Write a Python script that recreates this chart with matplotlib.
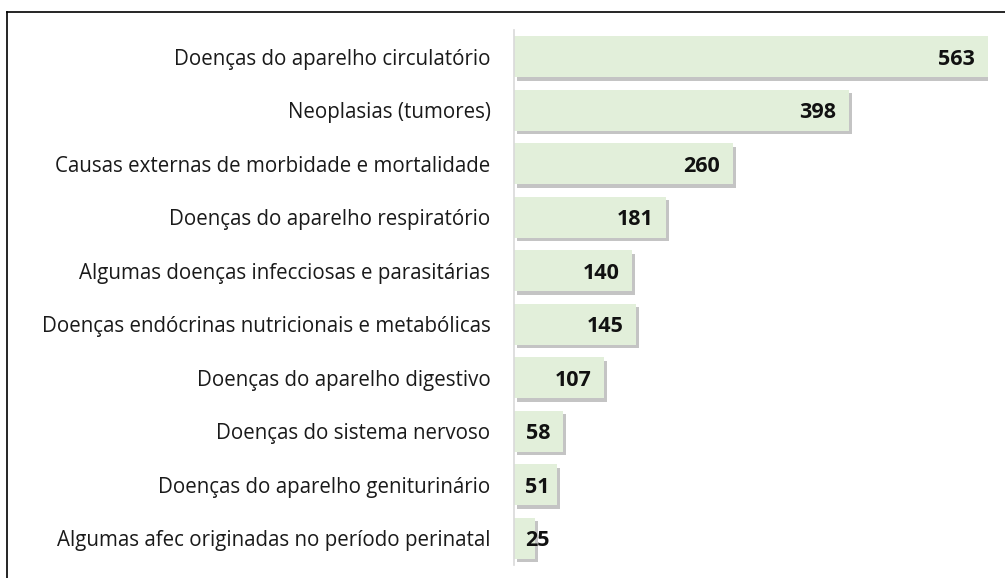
import matplotlib.pyplot as plt
import matplotlib.patheffects as pe
from matplotlib.lines import Line2D

# dados (óbitos por capítulo CID)
categorias = [
    'Doenças do aparelho circulatório',
    'Neoplasias (tumores)',
    'Causas externas de morbidade e mortalidade',
    'Doenças do aparelho respiratório',
    'Algumas doenças infecciosas e parasitárias',
    'Doenças endócrinas nutricionais e metabólicas',
    'Doenças do aparelho digestivo',
    'Doenças do sistema nervoso',
    'Doenças do aparelho geniturinário',
    'Algumas afec originadas no período perinatal',
]
valores = [563, 398, 260, 181, 140, 145, 107, 58, 51, 25]

plt.rcParams['font.family'] = ['Open Sans', 'DejaVu Sans']

W, H = 1005, 578
fig = plt.figure(figsize=(W / 100, H / 100), dpi=100)
# eixo: x de 514 a 988 px, y de 30 a 565 px
ax = fig.add_axes([514 / W, 1 - 565 / H, (988 - 514) / W, (565 - 30) / H])

pos = list(range(len(categorias)))
bars = ax.barh(pos, valores, height=0.77, color='#E2EFDA', zorder=2)
for b in bars:
    b.set_path_effects([pe.SimplePatchShadow(offset=(2, -2.5), shadow_rgbFace='#8a8a8a', alpha=0.5),
                        pe.Normal()])

ax.set_xlim(0, max(valores))
ax.set_ylim(len(categorias) - 0.5, -0.5)
ax.set_yticks(pos)
ax.set_yticklabels(categorias, fontsize=14.8, color='#1a1a1a')
ax.tick_params(axis='y', length=0, pad=17)
ax.set_xticks([])

for s in ['top', 'right', 'bottom']:
    ax.spines[s].set_visible(False)
ax.spines['left'].set_color('#D9D9D9')
ax.spines['left'].set_linewidth(1.2)
ax.spines['left'].set_zorder(3)

# rótulos de valor dentro da ponta da barra
for p, v in zip(pos, valores):
    ax.text(max(v - 15, 42), p + 0.05, str(v), ha='right', va='center',
            fontsize=15.5, fontweight='bold', color='#111111', zorder=4)

# moldura (somente topo e esquerda visíveis)
fig.add_artist(Line2D([7 / W, 1], [1 - 12 / H, 1 - 12 / H], color='black', lw=1.2))
fig.add_artist(Line2D([7 / W, 7 / W], [0, 1 - 12 / H], color='black', lw=1.2))

fig.savefig('out.png', dpi=100)
